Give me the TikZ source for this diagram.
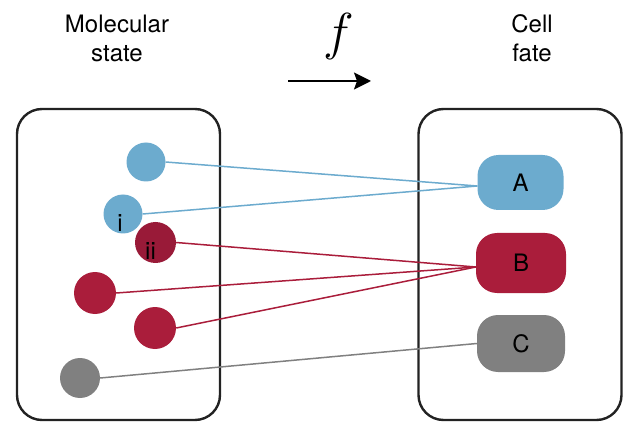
\RequirePackage{fix-cm}
\documentclass[tikz,border=0pt]{standalone}
\usepackage{fontspec}
\setmainfont{TeX Gyre Heros}
\usetikzlibrary{arrows.meta}
\definecolor{cblue}{HTML}{6CABCE}
\definecolor{cred}{HTML}{AA1D3B}
\definecolor{cdred}{HTML}{991A38}
\definecolor{cgray}{HTML}{808080}
\definecolor{cedge}{HTML}{222222}
\tikzset{
  panel/.style={draw=cedge, line width=2.4pt, rounded corners=25pt, minimum width=203pt, minimum height=311pt, inner sep=0pt},
  dot/.style={circle, inner sep=0pt, minimum size=#1},
  fatebox/.style={rounded corners=21pt, minimum width=#1, inner sep=0pt, font=\fontsize{24}{24}\selectfont},
  link/.style={line width=1.5pt},
  lbl/.style={font=\fontsize{24}{29}\selectfont, align=center, inner sep=0pt},
}
\begin{document}
\begin{tikzpicture}[x=1pt, y=-1pt]
\useasboundingbox (0,0) rectangle (624,422);
% panels
\node[panel] (left) at (118.5,264.5) {};
\node[panel] (right) at (520,264.5) {};
% headers
\node[lbl, anchor=base] (hl) at (117,62) {Molecular\\state};
\node[lbl, anchor=base] (hr) at (532,62) {Cell\\fate};
\node[inner sep=0pt, font=\fontsize{52}{52}\selectfont] (f) at (339,37) {$f$};
\coordinate (ar0) at (288,81);
\coordinate (ar1) at (371,81);
\draw[line width=1.8pt, -{Stealth[length=17pt,width=17pt,inset=3pt]}] (ar0) -- (ar1);
% fate boxes
\node[fatebox=86pt, minimum height=55pt, fill=cblue] (A) at (520.5,182.5) {A};
\node[fatebox=90pt, minimum height=60pt, fill=cred] (B) at (521,263) {B};
\node[fatebox=88pt, minimum height=57pt, fill=cgray] (C) at (521,343.5) {C};
% molecular dots
\node[dot=39pt, fill=cblue] (m1) at (146,162) {};
\node[dot=39pt, fill=cblue] (m2) at (123,214) {};
\node[dot=41pt, fill=cdred] (m3) at (155.5,242.5) {};
\node[dot=42pt, fill=cred] (m4) at (95,293) {};
\node[dot=42pt, fill=cred] (m5) at (155,328) {};
\node[dot=40pt, fill=cgray] (m6) at (80,378) {};
\node[lbl, anchor=base] (li) at (120,232) {i};
\node[lbl, anchor=base] (lii) at (150.5,260) {ii};
% links
\coordinate (Ain) at ([yshift=-3.5pt]A.west);
\coordinate (Bin) at ([yshift=-4pt]B.west);
\coordinate (Cin) at (C.west);
\draw[link, cblue] (m1.east) -- (Ain);
\draw[link, cblue] (m2.east) -- (Ain);
\draw[link, cred] (m3.east) -- (Bin);
\draw[link, cred] (m4.east) -- (Bin);
\draw[link, cred] (m5.east) -- (Bin);
\draw[link, cgray] (m6.east) -- (Cin);
\end{tikzpicture}
\end{document}
